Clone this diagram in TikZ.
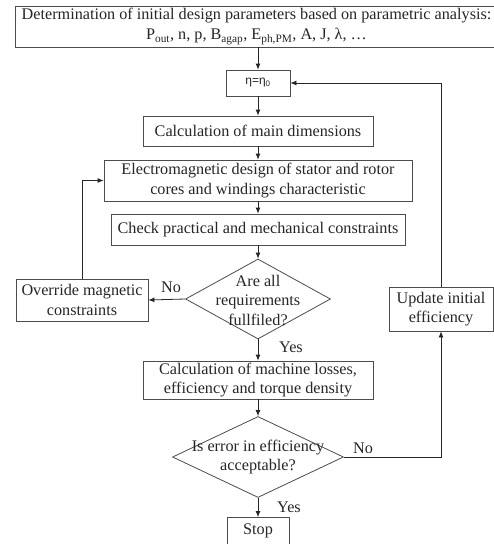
\documentclass[tikz,border=0pt]{standalone}
\usepackage{fontspec}
\setmainfont{Liberation Serif}
\newfontfamily\etafont{Liberation Sans}
\usetikzlibrary{arrows.meta,shapes.geometric}
\begin{document}
\begin{tikzpicture}[x=1pt,y=-1pt,
  every node/.style={font=\fontsize{16.2}{19.5}\selectfont, text=black!85},
  box/.style={draw=black!70, line width=0.8pt, rectangle, inner sep=0pt, align=center},
  dia/.style={draw=black!70, line width=0.8pt, diamond, inner sep=0pt},
  conn/.style={draw=black!85, line width=0.8pt},
  arr/.style={conn, -{Latex[length=6pt,width=5pt]}},
  lbl/.style={inner sep=0pt}
]
\useasboundingbox (0,0) rectangle (494,544);
\fill[white] (0,0) rectangle (494,544);

\node[box, minimum width=483pt, minimum height=41pt] (top) at (256.5,26.5)
  {Determination of initial design parameters based on parametric analysis:\\
   P\textsubscript{out}, n, p, B\textsubscript{agap}, E\textsubscript{ph,PM}, A, J, λ, …};
\node[box, minimum width=64pt, minimum height=26pt] (eta) at (258,83)
  {\etafont\fontsize{12}{14}\selectfont η=η\textsubscript{0}};
\node[box, minimum width=230pt, minimum height=30pt] (main) at (258,131)
  {Calculation of main dimensions};
\node[box, minimum width=308pt, minimum height=41pt] (em) at (258,180.5)
  {Electromagnetic design of stator and rotor\\cores and windings characteristic};
\node[box, minimum width=294pt, minimum height=31pt] (check) at (258,229.5)
  {Check practical and mechanical constraints};
\node[dia, minimum width=145pt, minimum height=80pt] (d1) at (258,299) {};
\node[lbl, align=center] (d1t) at (258,300) {Are all\\requirements\\fullfiled?};
\node[box, minimum width=132pt, minimum height=42pt] (over) at (82,300)
  {Override magnetic\\constraints};
\node[box, minimum width=104pt, minimum height=44pt] (upd) at (441,309)
  {Update initial\\efficiency};
\node[box, minimum width=230pt, minimum height=38pt] (loss) at (258,380)
  {Calculation of machine losses,\\efficiency and torque density};
\node[dia, minimum width=171pt, minimum height=81pt] (d2) at (258,457) {};
\node[lbl, align=center] (d2t) at (258,457) {Is error in efficiency\\acceptable?};
\node[box, minimum width=62pt, minimum height=27pt] (stop) at (258,531) {Stop};

\node[lbl] (no1) at (171,287) {No};
\node[lbl] (yes1) at (291,347) {Yes};
\node[lbl] (no2) at (363,448) {No};
\node[lbl] (yes2) at (289,507) {Yes};

\draw[arr] (top.south -| eta.north) -- (eta.north);
\draw[arr] (eta.south) -- (main.north);
\draw[arr] (main.south) -- (em.north);
\draw[arr] (em.south) -- (check.north);
\draw[arr] (check.south) -- (d1.north);
\draw[arr] (d1.west) -- (over.east);
\draw[arr] (over.north) |- (em.west);
\draw[arr] (d1.south) -- (loss.north);
\draw[arr] (loss.south) -- (d2.north);
\draw[arr] (d2.east) -| (upd.south);
\draw[arr] (upd.north) |- (eta.east);
\draw[arr] (d2.south) -- (stop.north);
\end{tikzpicture}
\end{document}
